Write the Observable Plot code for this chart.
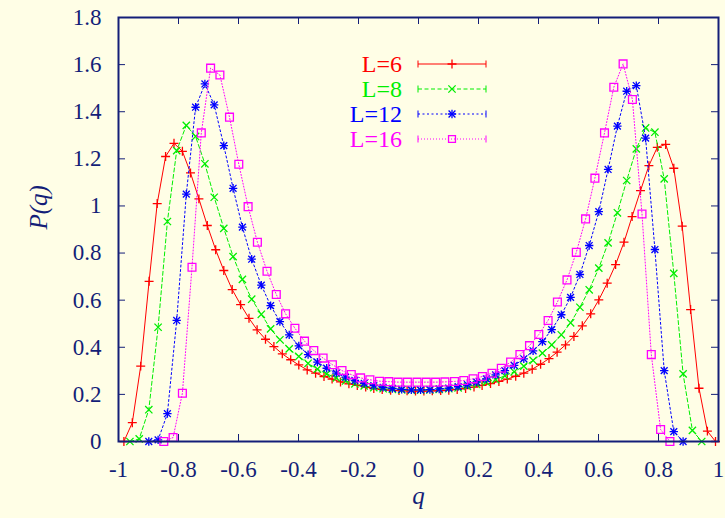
<!DOCTYPE html>
<html><head><meta charset="utf-8">
<script src="https://cdn.jsdelivr.net/npm/d3@7"></script>
<script src="https://cdn.jsdelivr.net/npm/@observablehq/plot@0.6"></script>
<style>
html,body{margin:0;padding:0;background:#fffee6;}
#wrap{position:relative;width:725px;height:518px;}
#wrap svg{position:absolute;left:0;top:0;}
</style></head><body><div id="wrap"></div>
<script>
// ---- data ----
const qL6 = [-0.982,-0.954,-0.926,-0.898,-0.871,-0.843,-0.815,-0.787,-0.760,-0.732,
  -0.704,-0.676,-0.649,-0.621,-0.593,-0.565,-0.538,-0.510,-0.482,-0.454,
  -0.426,-0.399,-0.371,-0.343,-0.315,-0.288,-0.260,-0.232,-0.204,-0.176,
  -0.149,-0.121,-0.093,-0.065,-0.038,-0.010,0.018,0.046,0.074,0.101,
  0.129,0.157,0.185,0.212,0.240,0.268,0.296,0.324,0.351,0.379,
  0.407,0.435,0.462,0.490,0.518,0.546,0.574,0.601,0.629,0.657,
  0.685,0.712,0.740,0.768,0.796,0.824,0.851,0.879,0.907,0.935,
  0.963,0.990];
const pL6 = [0,0.08,0.32,0.68,1.01,1.21,1.266,1.232,1.14,1.03,
  0.917,0.814,0.726,0.645,0.581,0.523,0.474,0.434,0.403,0.372,
  0.347,0.325,0.304,0.29,0.276,0.265,0.253,0.245,0.238,0.231,
  0.225,0.221,0.218,0.216,0.215,0.214,0.214,0.215,0.216,0.218,
  0.221,0.225,0.231,0.238,0.246,0.255,0.265,0.277,0.29,0.307,
  0.328,0.352,0.379,0.41,0.446,0.491,0.542,0.601,0.672,0.751,
  0.846,0.955,1.065,1.171,1.249,1.261,1.16,0.914,0.56,0.226,
  0.044,0];
const qL8 = [-0.962,-0.931,-0.899,-0.868,-0.837,-0.806,-0.774,-0.743,-0.712,-0.681,
  -0.649,-0.618,-0.587,-0.556,-0.524,-0.493,-0.462,-0.431,-0.399,-0.368,
  -0.337,-0.306,-0.274,-0.243,-0.212,-0.181,-0.149,-0.118,-0.087,-0.056,
  -0.024,0.007,0.038,0.069,0.101,0.132,0.163,0.194,0.226,0.257,
  0.288,0.319,0.351,0.382,0.413,0.444,0.476,0.507,0.538,0.569,
  0.601,0.632,0.663,0.694,0.726,0.757,0.788,0.819,0.851,0.882,
  0.913,0.944];
const pL8 = [0,0.011,0.135,0.485,0.934,1.235,1.342,1.295,1.179,1.037,
  0.905,0.785,0.688,0.604,0.54,0.478,0.432,0.393,0.361,0.332,
  0.307,0.287,0.27,0.257,0.245,0.236,0.229,0.224,0.221,0.219,
  0.218,0.218,0.219,0.221,0.224,0.228,0.234,0.242,0.252,0.263,
  0.279,0.296,0.32,0.344,0.375,0.41,0.453,0.504,0.57,0.644,
  0.736,0.843,0.971,1.108,1.242,1.331,1.313,1.115,0.714,0.287,
  0.047,0];
const qL12 = [-0.899,-0.868,-0.837,-0.806,-0.774,-0.743,-0.712,-0.681,
  -0.649,-0.618,-0.587,-0.556,-0.524,-0.493,-0.462,-0.431,-0.399,-0.368,
  -0.337,-0.306,-0.274,-0.243,-0.212,-0.181,-0.149,-0.118,-0.087,-0.056,
  -0.024,0.007,0.038,0.069,0.101,0.132,0.163,0.194,0.226,0.257,
  0.288,0.319,0.351,0.382,0.413,0.444,0.476,0.507,0.538,0.569,
  0.601,0.632,0.663,0.694,0.726,0.757,0.788,0.819,0.851,0.882];
const pL12 = [0,0.007,0.118,0.514,1.05,1.419,1.518,1.429,
  1.256,1.075,0.91,0.774,0.664,0.577,0.509,0.453,0.406,0.369,
  0.337,0.311,0.29,0.273,0.259,0.247,0.237,0.23,0.225,0.221,
  0.219,0.219,0.22,0.223,0.227,0.233,0.241,0.252,0.266,0.283,
  0.301,0.323,0.351,0.385,0.424,0.475,0.538,0.612,0.709,0.832,
  0.976,1.155,1.339,1.487,1.511,1.288,0.815,0.301,0.042,0];
const qL16 = [-0.849,-0.818,-0.787,-0.755,-0.724,-0.693,-0.662,-0.630,-0.599,-0.568,
  -0.537,-0.505,-0.474,-0.443,-0.412,-0.380,-0.349,-0.318,-0.287,-0.255,
  -0.224,-0.193,-0.162,-0.130,-0.099,-0.068,-0.037,-0.005,0.026,0.057,
  0.088,0.120,0.151,0.182,0.213,0.245,0.276,0.307,0.338,0.370,
  0.401,0.432,0.463,0.495,0.526,0.557,0.588,0.620,0.651,0.682,
  0.713,0.745,0.776,0.807,0.838];
const pL16 = [0,0.017,0.205,0.74,1.31,1.585,1.556,1.377,1.177,0.997,
  0.846,0.723,0.624,0.542,0.481,0.426,0.386,0.354,0.326,0.301,
  0.284,0.27,0.262,0.256,0.254,0.252,0.252,0.252,0.252,0.252,
  0.253,0.255,0.259,0.266,0.276,0.29,0.311,0.337,0.369,0.407,
  0.454,0.514,0.592,0.686,0.803,0.945,1.118,1.31,1.504,1.603,
  1.452,0.966,0.369,0.051,0];

const seriesNames = ["L=6","L=8","L=12","L=16"];
const xTicks = [-1,-0.8,-0.6,-0.4,-0.2,0,0.2,0.4,0.6,0.8,1];
const xTickLabels = ["-1","-0.8","-0.6","-0.4","-0.2","0","0.2","0.4","0.6","0.8","1"];
const yTicks = [0,0.2,0.4,0.6,0.8,1,1.2,1.4,1.6,1.8];
const yTickLabels = ["0","0.2","0.4","0.6","0.8","1","1.2","1.4","1.6","1.8"];
const xLabel = "q";
const yLabel = "P(q)";

// ---- styles ----
const navy = "#141e78";
const font = "Liberation Serif, Times New Roman, serif";
const styles = [
  {color:"#ff0000", dash:null,    symbols:[["plus",3.0]]},
  {color:"#00ee00", dash:"4,2.5", symbols:[["times",3.4]]},
  {color:"#0000ff", dash:"2,2.5", symbols:[["plus",2.8],["times",3.2]]},
  {color:"#ff00ff", dash:"1,2",   symbols:[["square",4.4]]}
];
const series = [
  {name:seriesNames[0], q:qL6,  p:pL6},
  {name:seriesNames[1], q:qL8,  p:pL8},
  {name:seriesNames[2], q:qL12, p:pL12},
  {name:seriesNames[3], q:qL16, p:pL16}
].map((s,i)=>({...s, ...styles[i]}));

const W = 725, H = 518, mL = 118, mR = 7, mT = 17, mB = 77;
const fw = W - mL - mR, fh = H - mT - mB, tickLen = 7;
const xFmt = new Map(xTicks.map((t,i)=>[t,xTickLabels[i]]));
const yFmt = new Map(yTicks.map((t,i)=>[t,yTickLabels[i]]));

const marks = [
  Plot.tickX(xTicks, {x:d=>d, stroke:navy, strokeWidth:1, insetTop: fh - tickLen}),
  Plot.tickX(xTicks, {x:d=>d, stroke:navy, strokeWidth:1, insetBottom: fh - tickLen}),
  Plot.tickY(yTicks, {y:d=>d, stroke:navy, strokeWidth:1, insetRight: fw - tickLen}),
  Plot.tickY(yTicks, {y:d=>d, stroke:navy, strokeWidth:1, insetLeft: fw - tickLen}),
  Plot.axisX(xTicks, {tickSize:0, tickPadding:19, tickFormat:d=>xFmt.get(d), fontSize:23, fontFamily:font, fill:navy, label:null}),
  Plot.axisY(yTicks, {tickSize:0, tickPadding:17, tickFormat:d=>yFmt.get(d), fontSize:23, fontFamily:font, fill:navy, label:null}),
];
for (const s of series) {
  const d = s.q.map((q,i)=>({L:s.name, q, p:s.p[i]}));
  marks.push(Plot.line(d, {x:"q", y:"p", stroke:s.color, strokeWidth:1, strokeDasharray:s.dash}));
  for (const [sym, r] of s.symbols)
    marks.push(Plot.dot(d, {x:"q", y:"p", symbol:sym, r, stroke:s.color, strokeWidth:1.3, fill:"none"}));
}
marks.push(Plot.frame({stroke:navy, strokeWidth:2}));
marks.push(Plot.text([xLabel], {frameAnchor:"bottom", dy:62, text:d=>d, fontSize:25, fontStyle:"italic", fontFamily:font, fill:navy}));
marks.push(Plot.text([yLabel], {frameAnchor:"left", dx:-80, rotate:-90, text:d=>d, fontSize:25, fontStyle:"italic", fontFamily:font, fill:navy}));

const chart = Plot.plot({
  width:W, height:H, marginLeft:mL, marginRight:mR, marginTop:mT, marginBottom:mB,
  x:{domain:[-1,1]}, y:{domain:[0,1.8]},
  style:{background:"transparent", color:navy, fontFamily:font, overflow:"visible"},
  marks
});
const wrap = document.getElementById("wrap");
wrap.appendChild(chart);

// ---- key (overlay) ----
const key = d3.select(wrap).append("svg").attr("width",W).attr("height",H)
  .style("pointer-events","none");
const keyX = 402, keyY0 = 64, keyDy = 25, lx0 = 418, lx1 = 486, lxm = 452;
const symMap = {plus:d3.symbolPlus, times:d3.symbolTimes, square:d3.symbolSquare2};
series.forEach((s,i)=>{
  const y = keyY0 + i*keyDy;
  const g = key.append("g");
  g.append("text").attr("x",keyX).attr("y",y).attr("dy","0.33em")
    .attr("text-anchor","end").attr("font-family",font).attr("font-size",24)
    .attr("fill",s.color).text(s.name);
  g.append("line").attr("x1",lx0).attr("x2",lx1).attr("y1",y).attr("y2",y)
    .attr("stroke",s.color).attr("stroke-width",1).attr("stroke-dasharray",s.dash);
  for (const x of [lx0,lx1])
    g.append("line").attr("x1",x).attr("x2",x).attr("y1",y-3.5).attr("y2",y+3.5)
      .attr("stroke",s.color).attr("stroke-width",1);
  for (const [sym, r] of s.symbols)
    g.append("path").attr("transform",`translate(${lxm},${y})`)
      .attr("d", d3.symbol(symMap[sym], r*r*Math.PI)())
      .attr("fill","none").attr("stroke",s.color).attr("stroke-width",1.3);
});
</script></body></html>
